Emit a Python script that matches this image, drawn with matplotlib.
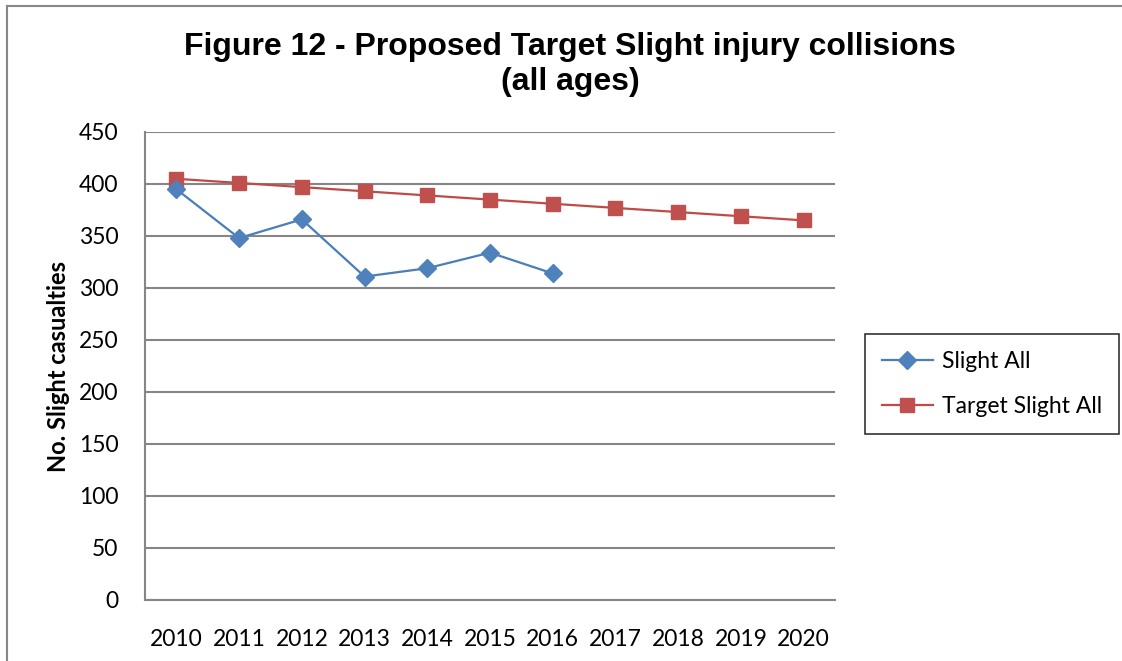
import matplotlib
matplotlib.use("Agg")
import matplotlib.pyplot as plt
from matplotlib.lines import Line2D

years = [2010, 2011, 2012, 2013, 2014, 2015, 2016, 2017, 2018, 2019, 2020]
slight_all = [395, 348, 366, 311, 319, 334, 314]
target_slight_all = [405, 401, 397, 393, 389, 385, 381, 377, 373, 369, 365]
yticks = [0, 50, 100, 150, 200, 250, 300, 350, 400, 450]

W, H = 1122, 661
fig = plt.figure(figsize=(W / 100, H / 100), dpi=100)
fig.patch.set_facecolor("white")

body = "Lato"
ax = fig.add_axes([145 / W, 1 - 600 / H, (835 - 145) / W, (600 - 132) / H])

x = list(range(len(years)))
ax.plot(x[:len(slight_all)], slight_all, color="#4A7EBB", lw=1.6, marker="D",
        ms=9, markerfacecolor="#4F81BD", markeredgecolor="#4F81BD", label="Slight All", zorder=4)
ax.plot(x, target_slight_all, color="#BE4B48", lw=1.6, marker="s",
        ms=10, markerfacecolor="#C0504D", markeredgecolor="#C0504D", label="Target Slight All", zorder=3)

ax.set_xlim(-0.5, len(years) - 0.5)
ax.set_ylim(0, 450)
ax.set_yticks(yticks)
ax.set_yticklabels([str(v) for v in yticks], fontfamily=body, fontsize=16.5)
ax.set_xticks(x)
ax.set_xticklabels([str(y) for y in years], fontfamily=body, fontsize=16.5)
ax.tick_params(axis="both", length=0)
ax.tick_params(axis="y", pad=19)
ax.tick_params(axis="x", pad=21)
ax.grid(axis="y", color="#868686", lw=1.5)
ax.set_axisbelow(True)
for s in ["top", "right"]:
    ax.spines[s].set_visible(False)
for s in ["left", "bottom"]:
    ax.spines[s].set_color("#868686")
    ax.spines[s].set_linewidth(1.5)

ax.set_ylabel("No. Slight casualties", fontfamily=body, fontsize=17, fontweight="bold")
ax.yaxis.set_label_coords(-0.108, 0.5)

fig.text(570 / W, 1 - 47 / H, "Figure 12 - Proposed Target Slight injury collisions",
         ha="center", va="center", fontfamily="Liberation Sans", fontweight="bold", fontsize=23)
fig.text(570 / W, 1 - 82 / H, "(all ages)",
         ha="center", va="center", fontfamily="Liberation Sans", fontweight="bold", fontsize=23)

leg = fig.legend(loc="upper left", bbox_to_anchor=(865 / W, 1 - 334 / H), bbox_transform=fig.transFigure,
                 prop={"family": body, "size": 16.5}, frameon=True, fancybox=False,
                 edgecolor="black", handlelength=2.2, handletextpad=0.4, labelspacing=1.05,
                 borderpad=0.75, borderaxespad=0)
leg.get_frame().set_linewidth(1.2)

# outer chart border
fig.add_artist(Line2D([7 / W, 7 / W], [0, 1 - 6 / H], transform=fig.transFigure, color="#888888", lw=1.5))
fig.add_artist(Line2D([7 / W, 1], [1 - 6 / H, 1 - 6 / H], transform=fig.transFigure, color="#888888", lw=1.5))

fig.savefig("out.png", dpi=100, facecolor="white")
